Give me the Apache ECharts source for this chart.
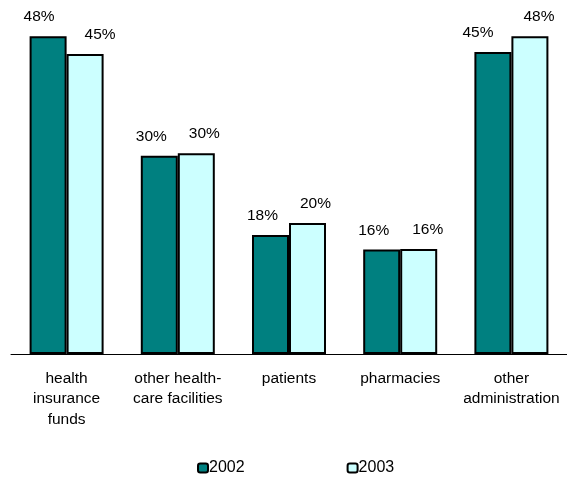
<!DOCTYPE html>
<html>
<head>
<meta charset="utf-8">
<script src="https://cdn.jsdelivr.net/npm/echarts@6/dist/echarts.min.js"></script>
<style>
html,body{margin:0;padding:0;background:#fff;}
#c{width:567px;height:478px;}
</style>
</head>
<body>
<div id="c"></div>
<script>
var categories = ['health\ninsurance\nfunds', 'other health-\ncare facilities', 'patients', 'pharmacies', 'other\nadministration'];
var seriesNames = ['2002', '2003'];
var values2002 = [47.8, 29.8, 17.9, 15.7, 45.4];
var values2003 = [45.1, 30.2, 19.7, 15.8, 47.8];
var labelShift2002 = [-9, -8, -8, -8, -15];
var labelShift2003 = [15, 8, 8, 9, 9];

var FONT = "'Liberation Sans', Arial, sans-serif";
function mk(vals, shifts) {
  return vals.map(function (v, i) {
    return { value: v, label: { offset: [shifts[i], 0] } };
  });
}
var chart = echarts.init(document.getElementById('c'), null, { renderer: 'canvas' });
chart.setOption({
  animation: false,
  backgroundColor: '#ffffff',
  grid: { left: 11, top: 21.5, bottom: 124, width: 561.5, containLabel: false },
  legend: {
    top: 455,
    left: 192,
    itemWidth: 10,
    itemHeight: 9,
    itemGap: 102,
    textStyle: { fontFamily: FONT, fontSize: 16, color: '#000', padding: [0, 0, 0, -4] },
    data: seriesNames
  },
  xAxis: {
    type: 'category',
    data: categories,
    axisLine: { lineStyle: { color: '#000', width: 1 } },
    axisTick: { length: 4, lineStyle: { color: '#000' } },
    axisLabel: { fontFamily: FONT, fontSize: 15.5, color: '#000', lineHeight: 20.5, margin: 14, interval: 0 }
  },
  yAxis: { type: 'value', min: 0, max: 50, show: false, splitLine: { show: false } },
  series: [
    {
      name: seriesNames[0], type: 'bar', data: mk(values2002, labelShift2002),
      barWidth: 37, barGap: '0%',
      itemStyle: { color: '#008080', borderColor: '#000', borderWidth: 2 },
      label: { show: true, position: 'top', distance: 11, fontFamily: FONT, fontSize: 15.5, color: '#000',
        formatter: function (p) { return Math.round(p.value) + '%'; } }
    },
    {
      name: seriesNames[1], type: 'bar', data: mk(values2003, labelShift2003),
      barWidth: 37,
      itemStyle: { color: '#CCFFFF', borderColor: '#000', borderWidth: 2 },
      label: { show: true, position: 'top', distance: 11, fontFamily: FONT, fontSize: 15.5, color: '#000',
        formatter: function (p) { return Math.round(p.value) + '%'; } }
    }
  ]
});
</script>
</body>
</html>
